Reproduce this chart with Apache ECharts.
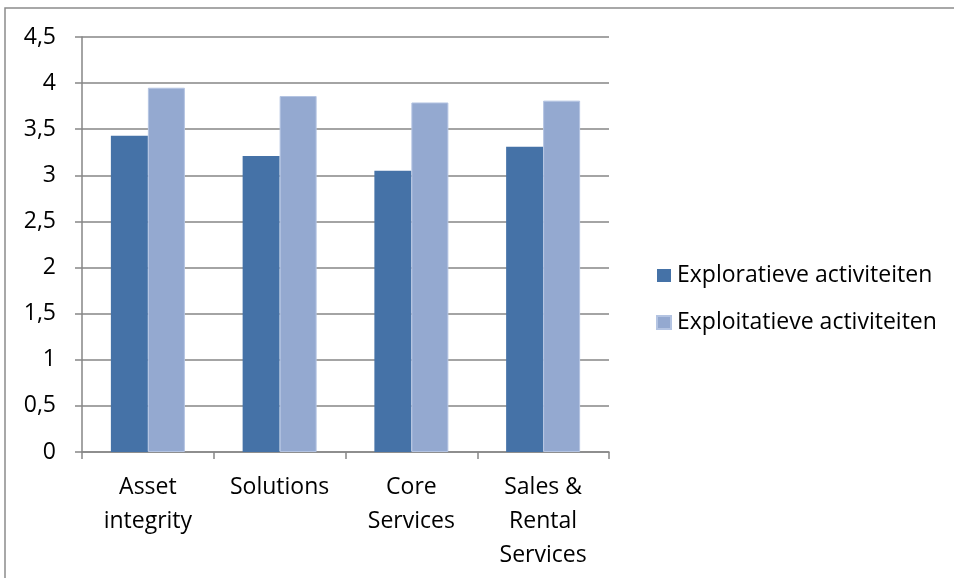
<!DOCTYPE html>
<html>
<head>
<meta charset="utf-8">
<script src="https://cdn.jsdelivr.net/npm/echarts@6/dist/echarts.min.js"></script>
<style>
  html, body { margin: 0; padding: 0; background: #fff; }
  #chart { width: 954px; height: 578px; }
</style>
</head>
<body>
<div id="chart"></div>
<script>
// Business units on the x axis
const categories = ['Asset\nintegrity', 'Solutions', 'Core\nServices', 'Sales &\nRental\nServices'];
// Average scores per unit
const explorativeValues = [3.43, 3.21, 3.05, 3.31];
const exploitativeValues = [3.95, 3.86, 3.79, 3.81];
const seriesNames = ['Exploratieve activiteiten', 'Exploitatieve activiteiten'];

const FONT = '"Open Sans", sans-serif';
const FONT_SIZE = 23;
const chart = echarts.init(document.getElementById('chart'), null, { renderer: 'canvas' });

chart.setOption({
  animation: false,
  backgroundColor: '#ffffff',
  graphic: [{
    // frame around the chart area
    type: 'polyline',
    shape: { points: [[5, 590], [5, 8], [960, 8]] },
    style: { stroke: '#8c8c8c', lineWidth: 1.5, fill: null }
  }],
  grid: { left: 82, right: 345, top: 37, bottom: 126, containLabel: false },
  legend: {
    orient: 'vertical',
    left: 651,
    top: 259,
    itemWidth: 14,
    itemHeight: 13,
    itemGap: 24,
    icon: 'rect',
    textStyle: { fontFamily: FONT, fontSize: FONT_SIZE, color: '#000', padding: [0, 0, 0, 1] },
    data: seriesNames
  },
  xAxis: {
    type: 'category',
    data: categories,
    axisLine: { lineStyle: { color: '#868686', width: 1.5 } },
    axisTick: { show: true, length: 7, alignWithLabel: false, lineStyle: { color: '#868686', width: 1.5 } },
    axisLabel: { fontFamily: FONT, fontSize: FONT_SIZE, color: '#000', lineHeight: 34, margin: 18, interval: 0 }
  },
  yAxis: {
    type: 'value',
    min: 0,
    max: 4.5,
    interval: 0.5,
    axisLine: { show: true, lineStyle: { color: '#868686', width: 1.5 } },
    axisTick: { show: true, length: 7, lineStyle: { color: '#868686', width: 1.5 } },
    splitLine: { show: true, lineStyle: { color: '#868686', width: 1.5 } },
    axisLabel: {
      fontFamily: FONT, fontSize: FONT_SIZE, color: '#000', margin: 26,
      formatter: v => String(v).replace('.', ',')
    }
  },
  series: [
    {
      name: seriesNames[0],
      type: 'bar',
      data: explorativeValues,
      barWidth: 37,
      barGap: '0%',
      itemStyle: { color: '#4572a7' }
    },
    {
      name: seriesNames[1],
      type: 'bar',
      data: exploitativeValues,
      barWidth: 37,
      barGap: '0%',
      itemStyle: { color: '#94a9d0', borderColor: '#b4c4e2', borderWidth: 1 }
    }
  ]
});
</script>
</body>
</html>
